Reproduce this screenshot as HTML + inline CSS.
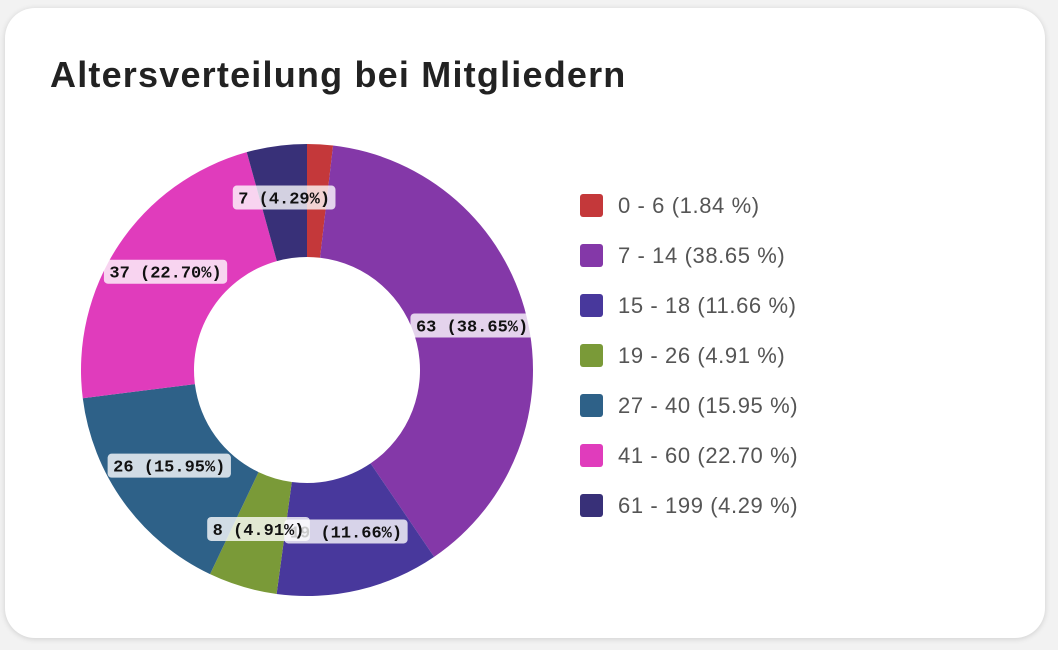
<!DOCTYPE html>
<html><head><meta charset="utf-8"><style>
html,body{margin:0;padding:0;width:1058px;height:650px;background:#f2f2f2;overflow:hidden;font-family:"Liberation Sans",sans-serif}
.card{position:absolute;left:5px;top:8px;width:1040px;height:630px;background:#fff;border-radius:30px;box-shadow:0 1px 6px rgba(0,0,0,.15)}
.title{position:absolute;left:45px;top:46px;font-size:36px;color:#222;font-weight:bold;letter-spacing:1.2px;white-space:nowrap}
.leg{position:absolute;left:575px;font-size:22px;color:#555;height:26px;line-height:26px}
.leg span.sw{position:absolute;left:0;top:1px;width:23px;height:23px;border-radius:3px}
.leg span.t{position:absolute;left:38px;white-space:nowrap;letter-spacing:0.6px}
</style></head><body>
<div class="card">
<div class="title">Altersverteilung bei Mitgliedern</div>
<svg width="1058" height="650" style="position:absolute;left:-5px;top:-8px" id="chart"></svg>
<div id="legend"></div>
</div>
<script>
const categories=["0 - 6","7 - 14","15 - 18","19 - 26","27 - 40","41 - 60","61 - 199"];
const values=[3,63,19,8,26,37,7];
const colors=["#c4383a","#8438a8","#48389c","#7a9a38","#2e6188","#e03cbc","#383078"];
const cx=307,cy=370,R=226,r=113;
const svg=document.getElementById('chart');
const NS="http://www.w3.org/2000/svg";
const total=values.reduce((a,b)=>a+b,0);
function pt(a,rad){return [cx+rad*Math.sin(a),cy-rad*Math.cos(a)];}
let acc=0;const labels=[];
values.forEach((v,i)=>{
 const a0=acc/total*2*Math.PI;acc+=v;const a1=acc/total*2*Math.PI;
 const large=(a1-a0)>Math.PI?1:0;
 const p0=pt(a0,R),p1=pt(a1,R),q1=pt(a1,r),q0=pt(a0,r);
 const p=document.createElementNS(NS,'path');
 p.setAttribute('d',`M${p0} A${R},${R} 0 ${large} 1 ${p1} L${q1} A${r},${r} 0 ${large} 0 ${q0}Z`);
 p.setAttribute('fill',colors[i]);
 
 
 svg.appendChild(p);
 if(v/total>0.03) labels.push([(a0+a1)/2,v,i]);
});
labels.forEach(([a,v,i])=>{
 const [x,y0]=pt(a,170);const y=y0-4;
 const txt=v+" ("+(v/total*100).toFixed(2)+"%)";
 const w=txt.length*10.3+10;
 const g=document.createElementNS(NS,'g');
 
 
 const rc=document.createElementNS(NS,'rect');
 rc.setAttribute('x',x-w/2);rc.setAttribute('y',y-12);rc.setAttribute('width',w);rc.setAttribute('height',24);rc.setAttribute('rx',4);
 rc.setAttribute('fill','rgba(255,255,255,0.78)');
 const t=document.createElementNS(NS,'text');
 t.setAttribute('x',x);t.setAttribute('y',y+6);t.setAttribute('text-anchor','middle');
 t.setAttribute('font-family','"Liberation Mono",monospace');t.setAttribute('font-weight','bold');t.setAttribute('font-size','17');t.setAttribute('fill','#111');
 t.textContent=txt;
 g.appendChild(rc);g.appendChild(t);svg.appendChild(g);
});
const leg=document.getElementById('legend');
categories.forEach((c,i)=>{
 const d=document.createElement('div');d.className='leg';d.style.top=(185+i*50)+'px';
 
 
 d.innerHTML=`<span class="sw" style="background:${colors[i]}"></span><span class="t">${c} (${(values[i]/total*100).toFixed(2)} %)</span>`;
 leg.appendChild(d);
});
</script>
</body></html>
